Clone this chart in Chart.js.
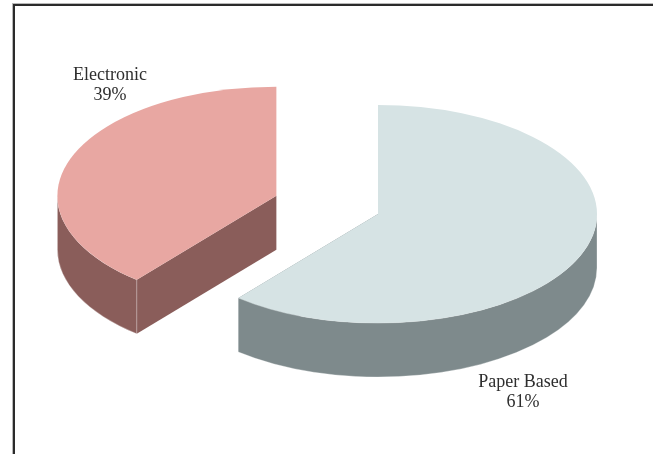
<!DOCTYPE html>
<html><head><meta charset="utf-8">
<script src="https://cdn.jsdelivr.net/npm/chart.js@4.4.0/dist/chart.umd.min.js"></script>
<style>
html,body{margin:0;padding:0;background:#fff;}
#wrap{position:relative;width:653px;height:454px;overflow:hidden;}
#frame{position:absolute;left:13px;top:4px;width:700px;height:520px;border-left:2px solid #2b2b2b;border-top:2px solid #2b2b2b;box-shadow:-1px -1px 0 #b8b8b8;}
#c{position:absolute;left:0;top:0;}
</style></head><body>
<div id="wrap"><div id="frame"></div><canvas id="c" width="653" height="454"></canvas></div>
<script>
const categories = ['Paper Based', 'Electronic'];
const values = [61, 39];
const topColors = ['#d6e3e4', '#e8a7a2'];
const sideColors = ['#7e8a8c', '#8a5d5a'];
const explode = [0, 108];
// label anchors, in units of pie radius from pie centre
const labelAnchors = [{x: 0.662, y: 0.79}, {x: -1.224, y: -0.612}];

const TILT = 0.498;   // vertical squash of the pie
const DEPTH = 54;     // thickness of the pie, px

function frontRanges(s, e) {
  const out = [];
  for (let n = -1; n <= 1; n++) {
    const lo = Math.max(s, 2 * Math.PI * n), hi = Math.min(e, Math.PI + 2 * Math.PI * n);
    if (hi > lo) out.push([lo, hi]);
  }
  return out;
}

const pie3d = {
  id: 'pie3d',
  beforeDatasetsDraw(chart) {
    const ctx = chart.ctx;
    const arcs = chart.getDatasetMeta(0).data;
    const geo = arcs.map((a, i) => {
      const mid = (a.startAngle + a.endAngle) / 2;
      const off = a.options.offset || 0;
      return {i, cx: a.x + Math.cos(mid) * off, cy: a.y + Math.sin(mid) * off * TILT,
              R: a.outerRadius, s: a.startAngle, e: a.endAngle};
    });
    const pt = (g, t, z) => [g.cx + g.R * Math.cos(t), g.cy + g.R * TILT * Math.sin(t) + z];
    ctx.save();
    ctx.lineWidth = 1;
    ctx.strokeStyle = 'rgba(255,255,255,0.3)';
    // radial faces
    geo.forEach(g => {
      [g.s, g.e].forEach(t => {
        const p0 = pt(g, t, 0), p1 = pt(g, t, DEPTH);
        ctx.beginPath();
        ctx.moveTo(g.cx, g.cy);
        ctx.lineTo(p0[0], p0[1]);
        ctx.lineTo(p1[0], p1[1]);
        ctx.lineTo(g.cx, g.cy + DEPTH);
        ctx.closePath();
        ctx.fillStyle = sideColors[g.i];
        ctx.fill();
      });
    });
    // outer walls (front half)
    geo.forEach(g => {
      frontRanges(g.s, g.e).forEach(([lo, hi]) => {
        ctx.beginPath();
        ctx.ellipse(g.cx, g.cy, g.R, g.R * TILT, 0, lo, hi, false);
        ctx.ellipse(g.cx, g.cy + DEPTH, g.R, g.R * TILT, 0, hi, lo, true);
        ctx.closePath();
        ctx.fillStyle = sideColors[g.i];
        ctx.fill();
        ctx.stroke();
      });
    });
    // top faces
    geo.forEach(g => {
      ctx.beginPath();
      ctx.moveTo(g.cx, g.cy);
      ctx.ellipse(g.cx, g.cy, g.R, g.R * TILT, 0, g.s, g.e, false);
      ctx.closePath();
      ctx.fillStyle = topColors[g.i];
      ctx.fill();
    });
    ctx.restore();
    return false;
  },
  afterDraw(chart) {
    const ctx = chart.ctx;
    const arcs = chart.getDatasetMeta(0).data;
    const total = values.reduce((a, b) => a + b, 0);
    ctx.save();
    ctx.font = '18px "Liberation Serif", "DejaVu Serif", serif';
    ctx.fillStyle = '#2e2e2e';
    ctx.textAlign = 'center';
    ctx.textBaseline = 'alphabetic';
    arcs.forEach((a, i) => {
      const x = a.x + labelAnchors[i].x * a.outerRadius;
      const y = a.y + labelAnchors[i].y * a.outerRadius;
      ctx.fillText(categories[i], x, y);
      ctx.fillText(Math.round(values[i] / total * 100) + '%', x, y + 20);
    });
    ctx.restore();
  }
};

new Chart(document.getElementById('c'), {
  type: 'pie',
  data: {
    labels: categories,
    datasets: [{
      data: values,
      backgroundColor: topColors,
      borderWidth: 0,
      offset: explode
    }]
  },
  options: {
    responsive: false,
    animation: false,
    events: [],
    radius: 219,
    layout: {padding: {left: 103, right: 0, top: 0, bottom: 26}},
    plugins: {legend: {display: false}, tooltip: {enabled: false}, title: {display: false}}
  },
  plugins: [pie3d]
});
</script>
</body></html>
